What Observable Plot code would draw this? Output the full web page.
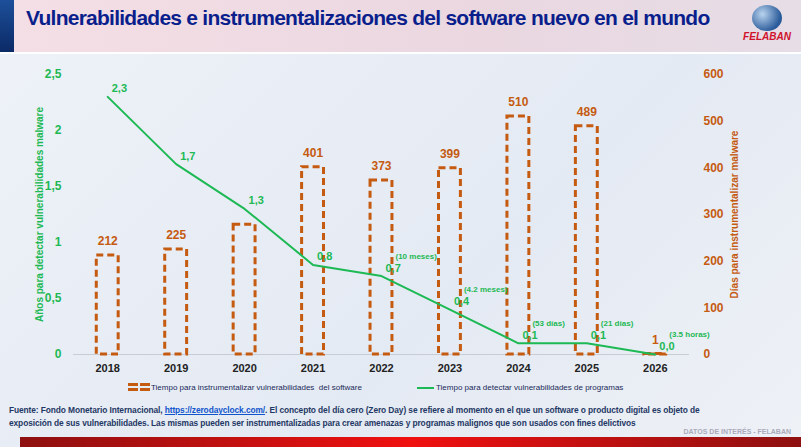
<!DOCTYPE html>
<html>
<head>
<meta charset="utf-8">
<script src="https://cdn.jsdelivr.net/npm/d3@7"></script>
<script src="https://cdn.jsdelivr.net/npm/@observablehq/plot@0.6"></script>
<style>
  body { margin:0; width:801px; height:447px; overflow:hidden; font-family:"Liberation Sans",Arial,sans-serif;
    background:linear-gradient(135deg,#eef2f8,#e4eaf3 60%,#eef1f6); position:relative; }
  #title { position:absolute; left:0; top:0; width:801px; height:52px; background:linear-gradient(90deg,#f5dfe6,#ead7e0 60%,#e6dde6); border-bottom:2px solid #fff; }
  #title .side { position:absolute; left:0; top:0; width:14px; height:52px; background:linear-gradient(180deg,#1d4f9a,#0b2a66); }
  #title h1 { margin:0; position:absolute; left:26px; top:6px; font-size:21px; font-weight:bold; color:#0a1e8c; white-space:nowrap; letter-spacing:-0.75px; }
  #logo { position:absolute; right:4px; top:5px; width:60px; text-align:center; }
  #logo .g { width:30px; height:26px; margin:0 auto; border-radius:50%; background:radial-gradient(circle at 35% 35%,#b9d3ee,#2a5b9a 70%); }
  #logo .t { font-size:10px; font-weight:bold; font-style:italic; color:#d0122c; }
  #chart { position:absolute; left:0; top:52px; }
  #legend { position:absolute; top:383px; left:0; width:801px; font-size:8px; color:#1a2a5a; }
  #legend span { position:absolute; white-space:nowrap; }
  #foot { position:absolute; left:9px; top:404px; width:790px; font-size:8.4px; font-weight:bold; color:#1f3864; line-height:13px; letter-spacing:-0.1px; }
  #foot span { position:absolute; left:0; white-space:nowrap; }
  #foot .a { color:#1155cc; text-decoration:underline; position:static; }
  #datos { position:absolute; right:10px; top:428px; font-size:7px; color:#aab; font-weight:bold; }
  #bar { position:absolute; left:20px; top:437px; width:781px; height:10px; background:linear-gradient(90deg,#8e1010,#f01010 50%,#8e1010); }
</style>
</head>
<body>
<div id="title"><div class="side"></div><h1>Vulnerabilidades e instrumentalizaciones del software nuevo en el mundo</h1>
  <div id="logo"><div class="g"></div><div class="t">FELABAN</div></div></div>
<div id="chart"></div>
<div id="legend">
  <span style="left:128px;top:0"><svg width="22" height="9"><rect x="0" y="0" width="10" height="3" fill="#c55a11"/><rect x="12" y="0" width="10" height="3" fill="#c55a11"/><rect x="0" y="5" width="10" height="3" fill="#c55a11"/><rect x="12" y="5" width="10" height="3" fill="#c55a11"/></svg></span>
  <span style="left:151px;top:0">Tiempo para instrumentalizar vulnerabilidades&nbsp; del software</span>
  <span style="left:417px;top:4px;width:17px;height:2px;background:#1db954"></span>
  <span style="left:436px;top:0">Tiempo para detectar vulnerabilidades de programas</span>
</div>
<div id="foot">
  <span style="top:0">Fuente: Fondo Monetario Internacional, <b class="a">https://zerodayclock.com/</b>. El concepto del día cero (Zero Day) se refiere al momento en el que un software o producto digital es objeto de</span>
  <span style="top:13px">exposición de sus vulnerabilidades. Las mismas pueden ser instrumentalizadas para crear amenazas y programas malignos que son usados con fines delictivos</span>
</div>
<div id="datos">DATOS DE INTERÉS - FELABAN</div>
<div id="bar"></div>
<script>
const years = [2018, 2019, 2020, 2021, 2022, 2023, 2024, 2025, 2026];
const dias = [212, 225, 278, 401, 373, 399, 510, 489, 1];
const diasLabel = ["212", "225", "", "401", "373", "399", "510", "489", "1"];
const anios = [2.3, 1.7, 1.3, 0.8, 0.7, 0.4, 0.1, 0.1, 0.0];
const notas = ["", "", "", "", "(10 meses)", "(4.2 meses)", "(53 días)", "(21 días)", "(3.5 horas)"];

const k = 600 / 2.5;
const orange = "#c55a11", green = "#1db954";
const data = years.map((y, i) => ({year: y, dias: dias[i], dl: diasLabel[i], anios: anios[i], nota: notas[i]}));
const comma = d => d.toFixed(1).replace(".", ",");
const tickFmt = d => d3.format(",")(+d.toFixed(1)).replace(".", ",");

const chart = Plot.plot({
  width: 801, height: 330,
  marginLeft: 73, marginRight: 112, marginTop: 22, marginBottom: 28,
  style: {background: "transparent", fontFamily: "Liberation Sans, sans-serif"},
  x: {type: "linear", domain: [2017.5, 2026.5]},
  y: {domain: [0, 600]},
  marks: [
    Plot.ruleY([0], {stroke: "#c8ccd4"}),
    Plot.rectY(data, {x1: d => d.year - 0.16, x2: d => d.year + 0.16, y: "dias", fill: "none", stroke: orange, strokeWidth: 3, strokeDasharray: "7,4"}),
    Plot.text(data, {x: "year", y: "dias", text: "dl", dy: -14, fill: orange, fontSize: 12, fontWeight: "bold"}),
    Plot.line(data, {x: "year", y: d => d.anios * k, stroke: green, strokeWidth: 2}),
    Plot.text(data, {x: "year", y: d => d.anios * k, text: d => comma(d.anios), dx: 4, dy: -8, textAnchor: "start", fill: green, fontSize: 11, fontWeight: "bold"}),
    Plot.text(data, {x: "year", y: d => d.anios * k, text: "nota", dx: 14, dy: -20, textAnchor: "start", fill: green, fontSize: 8, fontWeight: "bold"}),
    Plot.axisX({ticks: years, tickFormat: d => String(d), tickSize: 0, tickPadding: 10, label: null, fill: "#222", fontWeight: "bold", fontSize: 11}),
    Plot.axisY({anchor: "left", ticks: [0, 120, 240, 360, 480, 600], tickFormat: d => tickFmt(d / k), tickSize: 0, tickPadding: 12,
      label: "Años para detectar vulnerabilidades malware", labelAnchor: "center", labelOffset: 38, labelArrow: "none", color: green, fill: green, fontWeight: "bold", fontSize: 12}),
    Plot.axisY({anchor: "right", ticks: [0, 100, 200, 300, 400, 500, 600], tickSize: 0, tickPadding: 14,
      label: "Días para instrumentalizar malware", labelAnchor: "center", labelOffset: 48, labelArrow: "none", color: orange, fill: orange, fontWeight: "bold", fontSize: 12})
  ]
});
d3.select("#chart").append(() => chart);
d3.select(chart).selectAll("[aria-label='y-axis label'] text").style("font-size", "10px");
</script>
</body>
</html>
